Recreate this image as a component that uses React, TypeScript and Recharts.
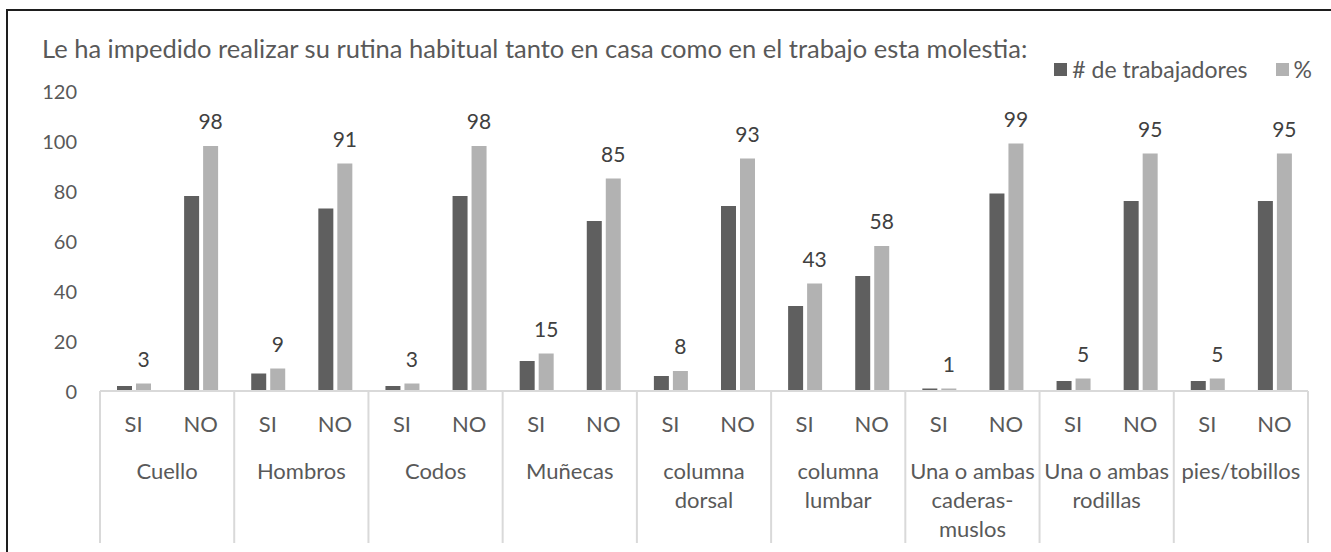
import React from 'react';
import { BarChart, Bar, XAxis, YAxis, LabelList, Legend } from 'recharts';

const groups = [
  'Cuello',
  'Hombros',
  'Codos',
  'Muñecas',
  'columna\ndorsal',
  'columna\nlumbar',
  'Una o ambas\ncaderas-\nmuslos',
  'Una o ambas\nrodillas',
  'pies/tobillos',
];
const answers = ['SI', 'NO'];
const trabajadores = [2, 78, 7, 73, 2, 78, 12, 68, 6, 74, 34, 46, 1, 79, 4, 76, 4, 76];
const porcentaje = [3, 98, 9, 91, 3, 98, 15, 85, 8, 93, 43, 58, 1, 99, 5, 95, 5, 95];
const yTicks = [0, 20, 40, 60, 80, 100, 120];
const seriesNames = ['# de trabajadores', '%'];
const title =
  'Le ha impedido realizar su rutina habitual tanto en casa como en el trabajo esta molestia:';

const data = groups.flatMap((g, gi) =>
  answers.map((a, ai) => ({
    id: `${gi}-${a}`,
    group: g,
    answer: a,
    first: ai === 0,
    last: gi === groups.length - 1 && ai === answers.length - 1,
    trabajadores: trabajadores[gi * answers.length + ai],
    pct: porcentaje[gi * answers.length + ai],
  }))
);

const W = 1331;
const H = 552;
const M_TOP = 91;
const M_RIGHT = 23;
const Y_W = 100;
const X_H = 161;
const PLOT_W = W - Y_W - M_RIGHT;
const SLOT = PLOT_W / data.length;
const AXIS_Y = H - X_H;
const FONT = 'Lato, "Open Sans", sans-serif';
const TXT = '#595959';
const FS_CAT = 22;
const FS_NUM = 20;
const FS_LBL = 21;
const FS_LEG = 23;
const FS_TITLE = 25.5;

const XTick = (props: any) => {
  const { x, payload } = props;
  const d = data.find((r) => r.id === payload.value);
  if (!d) return null;
  const lines = d.group.split('\n');
  return (
    <g>
      <text
        x={x}
        y={AXIS_Y + 32}
        textAnchor="middle"
        dominantBaseline="central"
        fill={TXT}
        fontSize={FS_CAT}
        fontFamily={FONT}
      >
        {d.answer}
      </text>
      {d.first && (
        <line x1={x - SLOT / 2} x2={x - SLOT / 2} y1={AXIS_Y} y2={543} stroke="#d9d9d9" strokeWidth={2} />
      )}
      {d.last && (
        <line x1={x + SLOT / 2} x2={x + SLOT / 2} y1={AXIS_Y} y2={543} stroke="#d9d9d9" strokeWidth={2} />
      )}
      {d.first &&
        lines.map((ln, i) => (
          <text
            key={i}
            x={x + SLOT / 2}
            y={AXIS_Y + 79 + i * 29}
            textAnchor="middle"
            dominantBaseline="central"
            fill={TXT}
            fontSize={FS_CAT}
            fontFamily={FONT}
          >
            {ln}
          </text>
        ))}
    </g>
  );
};

const YTick = (props: any) => {
  const { y, payload } = props;
  return (
    <text
      x={77}
      y={y}
      textAnchor="end"
      dominantBaseline="central"
      fill={TXT}
      fontSize={FS_NUM}
      fontFamily={FONT}
    >
      {payload.value}
    </text>
  );
};

const LegendContent = (props: any) => {
  const items = props.payload || [];
  return (
    <div
      style={{
        display: 'flex',
        alignItems: 'center',
        fontFamily: FONT,
        fontSize: FS_LEG,
        lineHeight: '26px',
        color: TXT,
        whiteSpace: 'nowrap',
      }}
    >
      {items.map((it: any, i: number) => (
        <div key={i} style={{ display: 'flex', alignItems: 'center', marginLeft: i === 0 ? 0 : 28 }}>
          <span style={{ display: 'inline-block', width: 13, height: 13, background: it.color, marginRight: 5 }} />
          <span>{it.value}</span>
        </div>
      ))}
    </div>
  );
};

export default function App() {
  return (
    <div style={{ position: 'absolute', left: 0, top: 0, width: W, height: H, background: '#fff', fontFamily: FONT }}>
      <div
        style={{
          position: 'absolute',
          left: 6,
          top: 9,
          width: W - 6,
          height: H - 9,
          borderTop: '2px solid #1e1e1e',
          borderLeft: '2px solid #1e1e1e',
          boxSizing: 'border-box',
        }}
      />
      <div
        style={{
          position: 'absolute',
          left: 42,
          top: 33,
          fontSize: FS_TITLE,
          lineHeight: '30px',
          color: TXT,
          whiteSpace: 'nowrap',
          fontFamily: FONT,
        }}
      >
        {title}
      </div>
      <BarChart
        width={W}
        height={H}
        data={data}
        margin={{ top: M_TOP, right: M_RIGHT, left: 0, bottom: 0 }}
        barSize={15}
        barGap={4}
      >
        <YAxis
          width={Y_W}
          domain={[0, 120]}
          ticks={yTicks}
          axisLine={false}
          tickLine={false}
          tick={<YTick />}
          interval={0}
        />
        <XAxis
          dataKey="id"
          height={X_H}
          interval={0}
          tickLine={false}
          axisLine={{ stroke: '#d9d9d9', strokeWidth: 2 }}
          tick={<XTick />}
        />
        <Legend
          verticalAlign="middle"
          align="center"
          layout="horizontal"
          wrapperStyle={{ top: 56, right: 19, left: 'auto', width: 'auto' }}
          content={<LegendContent />}
        />
        <Bar dataKey="trabajadores" name={seriesNames[0]} fill="#5f5f5f" isAnimationActive={false} />
        <Bar dataKey="pct" name={seriesNames[1]} fill="#b2b2b2" isAnimationActive={false}>
          <LabelList dataKey="pct" position="top" offset={17} fill="#404040" fontSize={FS_LBL} fontFamily={FONT} />
        </Bar>
      </BarChart>
    </div>
  );
}
